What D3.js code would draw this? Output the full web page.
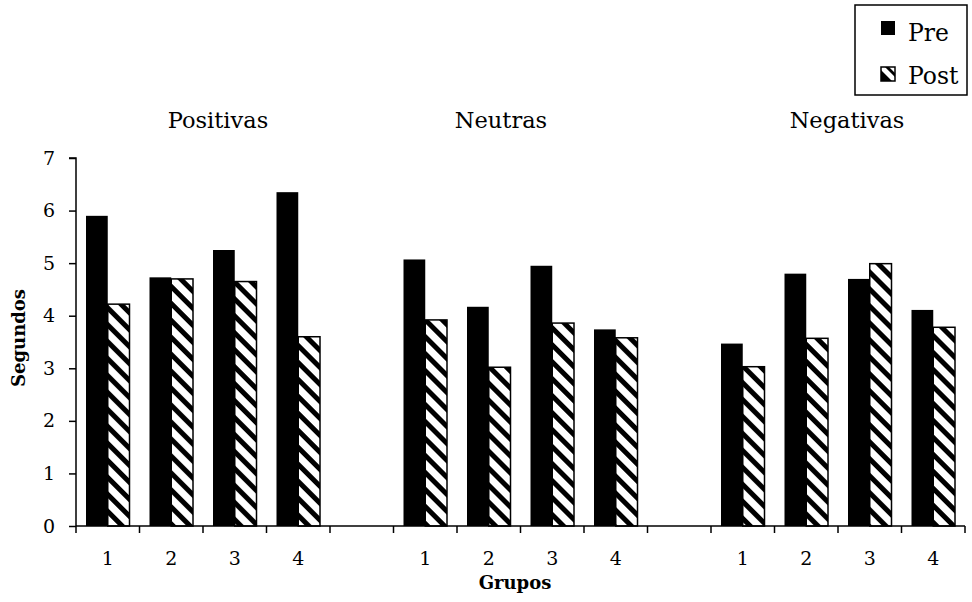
<!DOCTYPE html>
<html>
<head>
<meta charset="utf-8">
<script src="https://cdn.jsdelivr.net/npm/d3@7"></script>
<style>
  html, body { margin: 0; padding: 0; background: #fff; }
  svg { display: block; font-family: "DejaVu Serif", serif; }
</style>
</head>
<body>
<svg id="chart" width="972" height="602"></svg>
<script>
// Viewing time (seconds) before and after, by emotion block and group
const emotions = ["Positivas", "Neutras", "Negativas"];
const groups = ["1", "2", "3", "4"];
const series = ["Pre", "Post"];
const preValues  = [5.90, 4.73, 5.25, 6.35,  5.07, 4.17, 4.95, 3.74,  3.47, 4.80, 4.70, 4.11];
const postValues = [4.22, 4.70, 4.65, 3.60,  3.92, 3.02, 3.86, 3.58,  3.03, 3.57, 4.99, 3.78];
const yTickValues = [0, 1, 2, 3, 4, 5, 6, 7];

// Slots along the x axis: four groups per emotion, an empty slot between blocks
const slots = [];
emotions.forEach((e, ei) => {
  groups.forEach((g, gi) => {
    slots.push({ key: e + "-" + g, label: g, emotion: e, pre: preValues[ei * 4 + gi], post: postValues[ei * 4 + gi] });
  });
  if (ei < emotions.length - 1) slots.push({ key: "sep-" + ei, label: "", emotion: null });
});

const svg = d3.select("#chart");
const plotLeft = 76, plotRight = 965, plotTop = 158, plotBottom = 526;

const x0 = d3.scaleBand().domain(slots.map(d => d.key)).range([plotLeft, plotRight]).padding(0);
const innerPad = 10;
const x1 = d3.scaleBand().domain(series).range([innerPad, x0.bandwidth() - innerPad]).padding(0);
const y = d3.scaleLinear().domain([0, 7]).range([plotBottom, plotTop]);

// Diagonal hatch for the Post series
const defs = svg.append("defs");
const pat = defs.append("pattern")
  .attr("id", "hatch")
  .attr("patternUnits", "userSpaceOnUse")
  .attr("width", 12).attr("height", 12)
  .attr("patternTransform", "rotate(-45)");
pat.append("rect").attr("width", 12).attr("height", 12).attr("fill", "#fff");
pat.append("rect").attr("x", 0).attr("width", 5).attr("height", 12).attr("fill", "#000");

// Bars
const barData = slots.filter(d => d.emotion).flatMap(d => [
  { slot: d.key, s: "Pre", v: d.pre },
  { slot: d.key, s: "Post", v: d.post }
]);

svg.append("g").selectAll("rect")
  .data(barData)
  .join("rect")
  .attr("x", d => x0(d.slot) + x1(d.s))
  .attr("y", d => y(d.v))
  .attr("width", x1.bandwidth())
  .attr("height", d => y(0) - y(d.v))
  .attr("fill", d => d.s === "Pre" ? "#000" : "url(#hatch)")
  .attr("stroke", "#000")
  .attr("stroke-width", d => d.s === "Pre" ? 0 : 1.5);

// Y axis
const yAxis = d3.axisLeft(y).tickValues(yTickValues).tickSize(7).tickPadding(14).tickFormat(d3.format("d"));
const gy = svg.append("g").attr("transform", `translate(${plotLeft},0)`).call(yAxis);
gy.select(".domain").attr("stroke", "#000").attr("stroke-width", 1.5).attr("d", `M-7,${plotTop}H0V${plotBottom}`);
gy.selectAll(".tick line").attr("stroke", "#000").attr("stroke-width", 1.5);
gy.selectAll(".tick text").attr("font-family", "DejaVu Serif").attr("font-size", 19).attr("fill", "#000");

// X axis: ticks on slot boundaries, labels centred in each slot
const boundaries = slots.map(d => x0(d.key)).concat([plotRight]);
const gx = svg.append("g");
gx.append("line")
  .attr("x1", plotLeft).attr("x2", plotRight).attr("y1", plotBottom).attr("y2", plotBottom)
  .attr("stroke", "#000").attr("stroke-width", 1.5);
gx.selectAll("line.tick")
  .data(boundaries)
  .join("line")
  .attr("class", "tick")
  .attr("x1", d => d).attr("x2", d => d)
  .attr("y1", plotBottom).attr("y2", plotBottom + 7)
  .attr("stroke", "#000").attr("stroke-width", 1.5);
gx.selectAll("text")
  .data(slots)
  .join("text")
  .attr("x", d => x0(d.key) + x0.bandwidth() / 2)
  .attr("y", 565)
  .attr("text-anchor", "middle")
  .attr("font-size", 19)
  .text(d => d.label);

// Block titles above each emotion
const titleX = { Positivas: 218, Neutras: 501, Negativas: 847 };
svg.append("g").selectAll("text")
  .data(emotions)
  .join("text")
  .attr("x", d => titleX[d])
  .attr("y", 128)
  .attr("text-anchor", "middle")
  .attr("font-size", 22.5)
  .text(d => d);

// Axis titles
svg.append("text")
  .attr("x", 515).attr("y", 589)
  .attr("text-anchor", "middle")
  .attr("font-size", 18).attr("font-weight", "bold")
  .text("Grupos");

svg.append("text")
  .attr("transform", "translate(25,338) rotate(-90)")
  .attr("text-anchor", "middle")
  .attr("font-size", 18).attr("font-weight", "bold")
  .text("Segundos");

// Legend
const legend = svg.append("g");
legend.append("rect")
  .attr("x", 855).attr("y", 5).attr("width", 112).attr("height", 90)
  .attr("fill", "#fff").attr("stroke", "#000").attr("stroke-width", 1.5);
const legItems = legend.selectAll("g.item")
  .data(series)
  .join("g")
  .attr("class", "item");
legItems.append("rect")
  .attr("x", 881).attr("y", (d, i) => 21 + i * 46)
  .attr("width", 14).attr("height", 14)
  .attr("fill", d => d === "Pre" ? "#000" : "#fff")
  .attr("stroke", "#000").attr("stroke-width", d => d === "Pre" ? 0 : 1.5);
legItems.filter(d => d === "Post").append("path")
  .attr("transform", "translate(881,67)")
  .attr("d", "M0,3L0,14L11,14Z M4,0L14,10L14,6L8,0Z")
  .attr("fill", "#000");
legItems.append("text")
  .attr("x", 908).attr("y", (d, i) => 41 + i * 42.5)
  .attr("font-size", 23.5)
  .text(d => d);
</script>
</body>
</html>
